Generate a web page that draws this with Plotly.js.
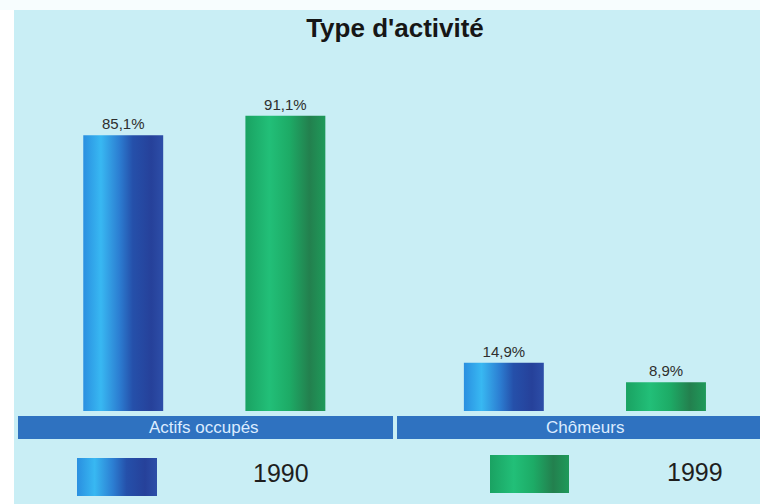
<!DOCTYPE html>
<html>
<head>
<meta charset="utf-8">
<script src="https://cdn.plot.ly/plotly-3.0.1.min.js"></script>
<style>
  html, body { margin: 0; padding: 0; background: #ffffff; }
  #chart { width: 760px; height: 504px; }
</style>
</head>
<body>
<div id="chart"></div>
<script>
// Répartition de la population active par type d'activité
const categories = ['Actifs occupés', 'Chômeurs'];
const years = ['1990', '1999'];
const values1990 = [85.1, 14.9];
const values1999 = [91.1, 8.9];

// Horizontal shading used for each series (offset, colour)
const gradientStops = {
  g1990: [[0, '#2a8fe0'], [0.22, '#38b8f2'], [0.45, '#2c7ed2'], [0.62, '#2550aa'], [0.85, '#26419a'], [1, '#2d4ea8']],
  g1999: [[0, '#1aa262'], [0.3, '#22bf78'], [0.55, '#1dab66'], [0.8, '#23804e'], [1, '#1f9a5a']]
};

const W = 760, H = 504;
const M = { l: 14, r: 0, t: 60, b: 93 };
const plotW = W - M.l - M.r, plotH = H - M.t - M.b;
const px = x => (x - M.l) / plotW;          // pixel -> paper x
const py = y => (H - M.b - y) / plotH;      // pixel -> paper y

const FAMILY = 'Liberation Sans, Arial, sans-serif';
const textFont = { family: FAMILY, size: 15, color: '#2e2e2e' };

const traces = [
  {
    type: 'bar', name: years[0], x: categories, y: values1990,
    offset: -0.318, width: 0.21,
    marker: { color: '#2c6fcc', line: { width: 0 } },
    texttemplate: '%{y:.1f}%', textposition: 'outside', textfont: textFont,
    cliponaxis: false, hoverinfo: 'skip'
  },
  {
    type: 'bar', name: years[1], x: categories, y: values1999,
    offset: 0.108, width: 0.21,
    marker: { color: '#1fae66', line: { width: 0 } },
    texttemplate: '%{y:.1f}%', textposition: 'outside', textfont: textFont,
    cliponaxis: false, hoverinfo: 'skip'
  }
];

const bandColor = '#2f72c0';
const shapes = [
  // pale frame along the left and top edges
  { type: 'rect', xref: 'paper', yref: 'paper', x0: px(0), x1: px(14), y0: py(H), y1: py(0),
    fillcolor: '#ffffff', line: { width: 0 }, layer: 'below' },
  { type: 'rect', xref: 'paper', yref: 'paper', x0: px(0), x1: px(W), y0: py(10), y1: py(0),
    fillcolor: '#f7fdfe', line: { width: 0 }, layer: 'below' },
  // category header bands
  { type: 'rect', xref: 'x', yref: 'paper', x0: -0.4895, x1: 0.4958, y0: py(416), y1: py(439),
    fillcolor: bandColor, line: { width: 0 } },
  { type: 'rect', xref: 'x', yref: 'paper', x0: 0.5063, x1: 1.46, y0: py(416), y1: py(439),
    fillcolor: bandColor, line: { width: 0 } },
  // legend swatches
  { type: 'rect', xref: 'paper', yref: 'paper', x0: px(77), x1: px(157), y0: py(458), y1: py(496),
    fillcolor: '#2c6fcc', line: { width: 0 } },
  { type: 'rect', xref: 'paper', yref: 'paper', x0: px(490), x1: px(569), y0: py(455), y1: py(493),
    fillcolor: '#1fae66', line: { width: 0 } }
];

const annotations = categories.map(c => ({
  xref: 'x', yref: 'paper', x: c, y: py(427.5), text: c, showarrow: false,
  xanchor: 'center', yanchor: 'middle',
  font: { family: FAMILY, size: 17, color: '#dcecff' }
})).concat([
  { xref: 'paper', yref: 'paper', x: px(281), y: py(473), text: years[0], showarrow: false,
    xanchor: 'center', yanchor: 'middle',
    font: { family: FAMILY, size: 25, color: '#1e1e1e' } },
  { xref: 'paper', yref: 'paper', x: px(695), y: py(472), text: years[1], showarrow: false,
    xanchor: 'center', yanchor: 'middle',
    font: { family: FAMILY, size: 25, color: '#1e1e1e' } }
]);

const layout = {
  width: W, height: H,
  margin: M,
  paper_bgcolor: '#c9eef5',
  plot_bgcolor: 'rgba(0,0,0,0)',
  separators: ', ',
  showlegend: false,
  barmode: 'overlay',
  title: {
    text: "<b>Type d'activité</b>",
    x: 395 / W, xref: 'container', xanchor: 'center',
    y: 1 - 28 / H, yref: 'container', yanchor: 'middle',
    font: { family: FAMILY, size: 26, color: '#161616' }
  },
  xaxis: {
    type: 'category', categoryarray: categories, range: [-0.5, 1.46],
    showticklabels: false, showgrid: false, zeroline: false, showline: false, ticks: '',
    fixedrange: true
  },
  yaxis: {
    range: [0, plotH / 3.24],
    visible: false, showgrid: false, zeroline: false, fixedrange: true
  },
  shapes: shapes,
  annotations: annotations
};

function addGradient(defs, id, stops) {
  const ns = 'http://www.w3.org/2000/svg';
  const g = document.createElementNS(ns, 'linearGradient');
  g.setAttribute('id', id);
  g.setAttribute('x1', '0'); g.setAttribute('y1', '0');
  g.setAttribute('x2', '1'); g.setAttribute('y2', '0');
  stops.forEach(([o, c]) => {
    const s = document.createElementNS(ns, 'stop');
    s.setAttribute('offset', o);
    s.setAttribute('stop-color', c);
    g.appendChild(s);
  });
  defs.appendChild(g);
}

function applyShading(gd) {
  const svg = gd.querySelector('.main-svg');
  let defs = svg.querySelector('defs');
  if (!defs) { defs = document.createElementNS('http://www.w3.org/2000/svg', 'defs'); svg.prepend(defs); }
  if (!document.getElementById('g1990')) {
    addGradient(defs, 'g1990', gradientStops.g1990);
    addGradient(defs, 'g1999', gradientStops.g1999);
  }
  const ids = ['g1990', 'g1999'];
  gd.querySelectorAll('.barlayer .trace').forEach((t, i) => {
    t.querySelectorAll('.point path').forEach(p => { p.style.fill = 'url(#' + ids[i] + ')'; });
  });
  // legend swatches are the last two layout shapes
  const n = shapes.length;
  gd.querySelectorAll('.shapelayer path').forEach(p => {
    const idx = +p.getAttribute('data-index');
    if (idx === n - 2) p.style.fill = 'url(#g1990)';
    if (idx === n - 1) p.style.fill = 'url(#g1999)';
  });
}

Plotly.newPlot('chart', traces, layout, { staticPlot: true, displayModeBar: false })
  .then(gd => applyShading(gd));
</script>
</body>
</html>
